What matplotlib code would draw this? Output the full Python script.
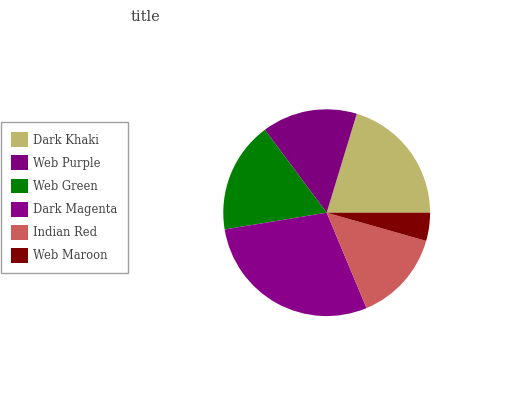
import matplotlib
matplotlib.use("Agg")
import matplotlib.pyplot as plt
from matplotlib.patches import Patch

labels = ["Dark Khaki", "Web Purple", "Web Green", "Dark Magenta", "Indian Red", "Web Maroon"]
values = [20.3, 14.9, 17.4, 28.7, 14.3, 4.4]
colors = ["#BDB76B", "#7F007F", "#008000", "#8B008B", "#CD5C5C", "#7F0000"]

plt.rcParams["font.family"] = "DejaVu Serif"

fig = plt.figure(figsize=(5.32, 4.0), dpi=100)

# pie axes placed to match the reference circle
ax = fig.add_axes([0.4197, 0.2098, 0.3887, 0.517])
ax.pie(values, colors=colors, startangle=0, counterclock=True,
       wedgeprops=dict(linewidth=0))
ax.set_xlim(-1, 1)
ax.set_ylim(-1, 1)
ax.set_aspect("equal")

fig.text(145 / 532, 1 - 17 / 400, "title", ha="center", va="center",
         fontsize=10.5, color="#444444")

handles = [Patch(facecolor=c, edgecolor="none") for c in colors]
leg = fig.legend(handles, labels, loc="upper left",
                 bbox_to_anchor=(1 / 532, 1 - 122 / 400),
                 fontsize=8.3, frameon=True, fancybox=False,
                 handlelength=1.4, handleheight=1.6,
                 labelspacing=0.72, handletextpad=0.5,
                 borderpad=0.9, borderaxespad=0)
leg.get_frame().set_edgecolor("#888888")
leg.get_frame().set_linewidth(1.0)
for t in leg.get_texts():
    t.set_color("#444444")

fig.savefig("out.png", dpi=100)
